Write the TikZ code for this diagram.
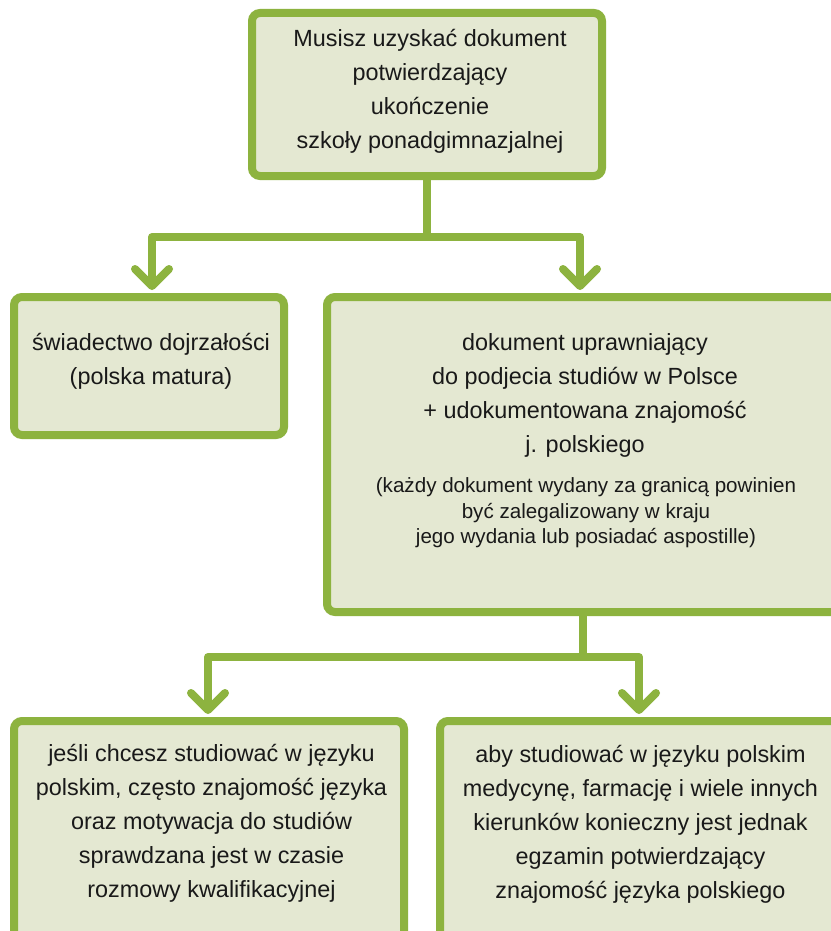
\documentclass[tikz,border=0pt]{standalone}
\usepackage{fontspec}
\setmainfont{Liberation Sans}
\usetikzlibrary{arrows.meta}
\definecolor{gborder}{RGB}{141,179,63}
\definecolor{gfill}{RGB}{228,232,210}
\begin{document}
\begin{tikzpicture}[x=1pt,y=-1pt,
  box/.style={draw=gborder, fill=gfill, line width=8pt, rounded corners=8pt, inner sep=0pt},
  txt/.style={align=center, font=\fontsize{23.4}{34}\selectfont, text=black!90},
  smalltxt/.style={align=center, font=\fontsize{20.6}{25.5}\selectfont, text=black!90},
  link/.style={draw=gborder, line width=8pt, line join=round},
  conn/.style={link, -{Straight Barb[length=17pt, width=34pt, round]}, shorten >=3pt}]
\useasboundingbox (0,0) rectangle (830,931);
\fill[white] (0,0) rectangle (830,931);

% boxes
\node[box, minimum width=350pt, minimum height=163pt] (top) at (427,94.5) {};
\node[box, minimum width=270pt, minimum height=138pt] (ml) at (149,366) {};
\node[box, minimum width=553pt, minimum height=315pt] (mr) at (603.5,454.5) {};
\node[box, minimum width=390pt, minimum height=224pt] (bl) at (209,833) {};
\node[box, minimum width=440pt, minimum height=224pt] (br) at (660,833) {};

% texts
\node[txt] (ttop) at (430,91) {Musisz uzyskać dokument\\potwierdzający\\ukończenie\\szkoły ponadgimnazjalnej};
\node[txt] (tml) at (151,361) {świadectwo dojrzałości\\(polska matura)};
\node[txt] (tmr) at (585,395) {dokument uprawniający\\do podjecia studiów w Polsce\\+ udokumentowana znajomość\\j. polskiego};
\node[smalltxt] (tmr2) at (586,513) {(każdy dokument wydany za granicą powinien\\być zalegalizowany w kraju\\jego wydania lub posiadać aspostille)};
\node[txt] (tbl) at (211.5,823) {jeśli chcesz studiować w języku\\polskim, często znajomość języka\\oraz motywacja do studiów\\sprawdzana jest w czasie\\rozmowy kwalifikacyjnej};
\node[txt] (tbr) at (640.5,824) {aby studiować w języku polskim\\medycynę, farmację i wiele innych\\kierunków konieczny jest jednak\\egzamin potwierdzający\\znajomość języka polskiego};

% connectors
\path (top.south) ++(0,57) coordinate (j1);
\path ([xshift=-20.5pt]mr.south) ++(0,41) coordinate (j2);
\draw[link] (top.south) -- (j1);
\draw[conn] (j1) -| ([xshift=3pt]ml.north);
\draw[conn] (j1) -| ([xshift=-23.5pt]mr.north);
\draw[link] ([xshift=-20.5pt]mr.south) -- (j2);
\draw[conn] (j2) -| ([xshift=-1pt]bl.north);
\draw[conn] (j2) -| ([xshift=-21pt]br.north);
\end{tikzpicture}
\end{document}
